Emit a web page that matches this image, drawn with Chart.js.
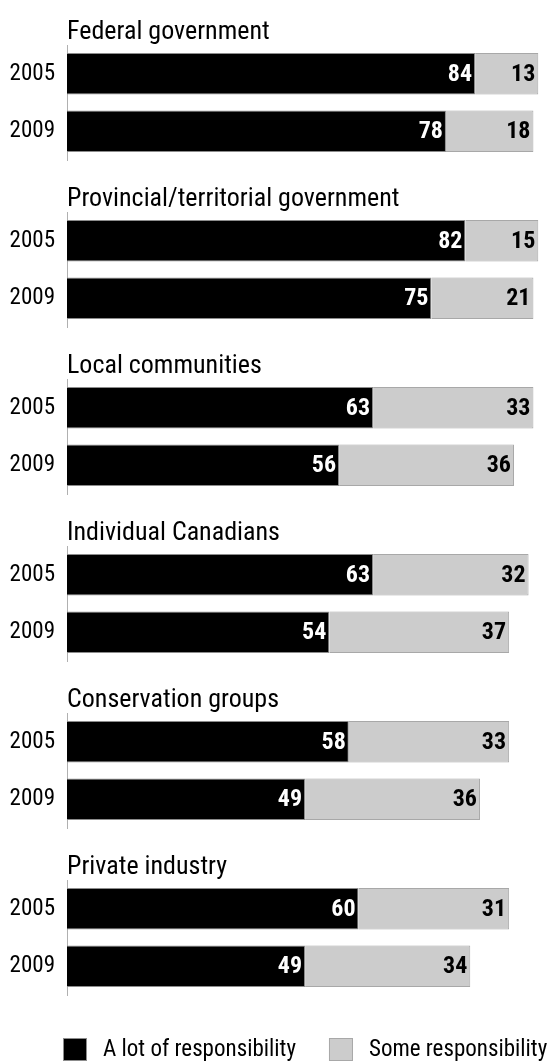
<!DOCTYPE html>
<html>
<head>
<meta charset="utf-8">
<script src="https://cdn.jsdelivr.net/npm/chart.js@4/dist/chart.umd.min.js"></script>
<style>
  html, body { margin: 0; padding: 0; background: #fff; }
  #wrap { position: relative; width: 550px; height: 1063px; overflow: hidden; }
  #wrap canvas { position: absolute; left: 0; display: block; }
</style>
</head>
<body>
<div id="wrap"></div>
<script>
// Share of respondents saying each group has responsibility (%)
const groups = [
  'Federal government',
  'Provincial/territorial government',
  'Local communities',
  'Individual Canadians',
  'Conservation groups',
  'Private industry'
];
const years = ['2005', '2009'];
const aLot = [
  [84, 78],
  [82, 75],
  [63, 56],
  [63, 54],
  [58, 49],
  [60, 49]
];
const some = [
  [13, 18],
  [15, 21],
  [33, 36],
  [32, 37],
  [33, 36],
  [31, 34]
];
const seriesNames = ['A lot of responsibility', 'Some responsibility'];

const FONT = "'Roboto Condensed', 'Liberation Sans', sans-serif";
const fills = ['#000000', '#cccccc'];
const edges = ['#8c8c8c', '#a8a8a8'];
const GROUP_H = 167;
// the y axis reserves room under its last label, so each canvas runs a little
// past its slot and the padding below the plot is set explicitly
const BOTTOM_PAD = 30;
const KEY_PAD = 68;

// values written inside the right end of each segment
const valueLabels = {
  id: 'valueLabels',
  afterDatasetsDraw(chart) {
    const ctx = chart.ctx;
    ctx.save();
    ctx.font = 'bold 24px ' + FONT;
    ctx.textAlign = 'right';
    ctx.textBaseline = 'middle';
    chart.data.datasets.forEach((ds, i) => {
      const meta = chart.getDatasetMeta(i);
      ctx.fillStyle = i === 0 ? '#ffffff' : '#000000';
      meta.data.forEach((bar, j) => {
        ctx.fillText(String(ds.data[j]), bar.x - 3, bar.y + 1);
      });
    });
    ctx.restore();
  }
};

// key row drawn under the chart area of the last group
const swatchLegend = {
  id: 'swatchLegend',
  afterDraw(chart, args, opts) {
    if (!opts.show) return;
    const ctx = chart.ctx;
    const top = chart.chartArea.bottom + 43;
    let x = 63;
    ctx.save();
    ctx.font = '23px ' + FONT;
    ctx.textAlign = 'left';
    ctx.textBaseline = 'middle';
    chart.data.datasets.forEach((ds) => {
      ctx.fillStyle = ds.backgroundColor;
      ctx.fillRect(x, top, 24, 23);
      ctx.strokeStyle = ds.borderColor;
      ctx.lineWidth = 1;
      ctx.strokeRect(x + 0.5, top + 0.5, 23, 22);
      ctx.fillStyle = '#000';
      const tx = x + 24 + 16;
      ctx.fillText(ds.label, tx, top + 12);
      x = tx + ctx.measureText(ds.label).width + 33;
    });
    ctx.restore();
  }
};

function makeDatasets(k) {
  return seriesNames.map((name, i) => ({
    label: name,
    data: i === 0 ? aLot[k] : some[k],
    backgroundColor: fills[i],
    borderColor: edges[i],
    borderWidth: 1,
    categoryPercentage: 1,
    barPercentage: 0.724
  }));
}

const wrap = document.getElementById('wrap');

groups.forEach((title, k) => {
  const last = k === groups.length - 1;
  const canvas = document.createElement('canvas');
  canvas.width = 550;
  canvas.height = last ? 1063 - GROUP_H * k : GROUP_H + BOTTOM_PAD - 7;
  canvas.style.top = (GROUP_H * k) + 'px';
  wrap.appendChild(canvas);

  new Chart(canvas, {
    type: 'bar',
    data: { labels: years, datasets: makeDatasets(k) },
    options: {
      indexAxis: 'y',
      responsive: false,
      animation: false,
      layout: { padding: { top: 19, bottom: last ? KEY_PAD : BOTTOM_PAD, left: 0, right: 2 } },
      scales: {
        x: { stacked: true, min: 0, max: 99, display: false },
        y: {
          stacked: true,
          grid: { display: false, drawTicks: false },
          border: { display: true, color: '#b0b0b0', width: 1 },
          ticks: { color: '#000', padding: 12, font: { family: FONT, size: 23 } },
          afterFit(scale) { scale.width = 67; }
        }
      },
      plugins: {
        legend: { display: false },
        tooltip: { enabled: false },
        title: {
          display: true,
          text: title,
          align: 'start',
          fullSize: false,
          color: '#000',
          font: { family: FONT, size: 26, weight: 'normal', lineHeight: 1.0 },
          padding: { top: 0, bottom: 0 }
        },
        swatchLegend: { show: last }
      }
    },
    plugins: [valueLabels, swatchLegend]
  });
});
</script>
</body>
</html>
